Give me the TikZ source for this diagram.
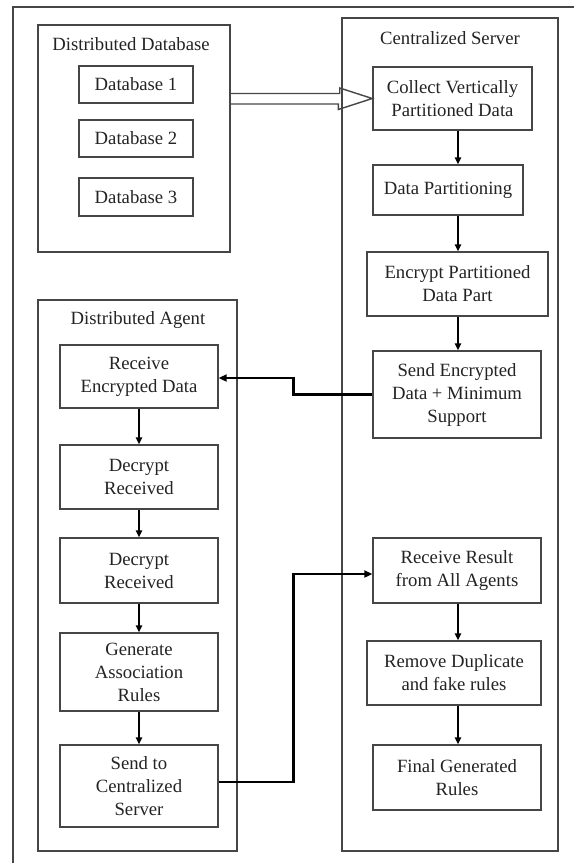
\documentclass[tikz,border=0pt]{standalone}
\usepackage{fontspec}
\setmainfont{Liberation Serif}
\newfontfamily\tnr{Liberation Serif}
\usetikzlibrary{arrows.meta,calc}
\definecolor{ln}{RGB}{70,70,70}
\definecolor{tx}{RGB}{35,35,35}
\begin{document}
\begin{tikzpicture}[x=1pt,y=-1pt,
  box/.style n args={2}{draw=ln,line width=1.4pt,minimum width=#1pt,minimum height=#2pt,
    inner sep=0pt,align=center,text=tx,font=\tnr\fontsize{18.7}{23}\selectfont},
  container/.style n args={2}{draw=ln,line width=1.4pt,minimum width=#1pt,minimum height=#2pt,inner sep=0pt},
  titletext/.style={inner sep=0pt,text=tx,font=\tnr\fontsize{18.7}{23}\selectfont},
  arr/.style={draw=black,line width=1.4pt,-{Triangle[length=7pt,width=6.5pt]}},
  bigarr/.style={draw=black,line width=2.6pt,-{Triangle[length=8pt,width=7pt]}},
  frameline/.style={draw=ln,line width=1.4pt}]
\useasboundingbox (0,0) rectangle (574,863);
% outer frame
\coordinate (tl) at (13,7);
\coordinate (tr) at (574,7);
\coordinate (bl) at (13,863);
\draw[frameline] (tr) -- (tl) -- (bl);
% containers
\node[container={192}{227}] (dd) at (134,138.5) {};
\node[titletext] (ddt) at (131,44) {Distributed Database};
\node[container={216}{833}] (cs) at (450,434.5) {};
\node[titletext] (cst) at (450,38) {Centralized Server};
\node[container={199}{551}] (da) at (137.5,575.5) {};
\node[titletext] (dat) at (138,320) {Distributed Agent};
% database boxes
\node[box={114}{37}] (db1) at (136,84.5) {Database 1};
\node[box={114}{37}] (db2) at (136,138.5) {Database 2};
\node[box={114}{38}] (db3) at (136,197) {Database 3};
% server boxes
\node[box={159}{63}] (collect) at (452.5,98.5) {Collect Vertically\\Partitioned Data};
\node[box={150}{50}] (datapart) at (448,190) {Data Partitioning};
\node[box={181}{64}] (encrypt) at (457.5,284) {Encrypt Partitioned\\Data Part};
\node[box={168}{87}] (sendenc) at (457,394.5) {Send Encrypted\\Data + Minimum\\Support};
\node[box={168}{65}] (recvres) at (457,570.5) {Receive Result\\from All Agents};
\node[box={174}{64}] (remove) at (454,673) {Remove Duplicate\\and fake rules};
\node[box={168}{65}] (final) at (457,777.5) {Final Generated\\Rules};
% agent boxes
\node[box={158}{63}] (recvenc) at (139,376.5) {Receive\\Encrypted Data};
\node[box={158}{64}] (dec1) at (139,477) {Decrypt\\Received};
\node[box={158}{65}] (dec2) at (139,570.5) {Decrypt\\Received};
\node[box={158}{78}] (gen) at (139,672) {Generate\\Association\\Rules};
\node[box={158}{82}] (sendto) at (139,786) {Send to\\Centralized\\Server};
% hollow arrow
\draw[frameline,line join=miter] (dd.east |- collect.west) ++(0,-5) -- ++(109,0) -- ++(0,-5.5)
  -- (collect.west) -- ++(-34,11) -- ++(0,-5.5) -- ++(-109,0);
% server arrows
\coordinate (ax) at (458,0);
\draw[arr] (collect.south -| ax) -- (datapart.north -| ax);
\draw[arr] (datapart.south -| ax) -- (encrypt.north -| ax);
\draw[arr] (encrypt.south -| ax) -- (sendenc.north -| ax);
\draw[arr] (recvres.south -| ax) -- (remove.north -| ax);
\draw[arr] (remove.south -| ax) -- (final.north -| ax);
% agent arrows
\draw[arr] (recvenc.south) -- (dec1.north);
\draw[arr] (dec1.south) -- (dec2.north);
\draw[arr] (dec2.south) -- (gen.north);
\draw[arr] (gen.south) -- (sendto.north);
% long connectors
\draw[bigarr,line join=miter] (sendenc.west) -- ++(-79,0) |- ([yshift=-1.5pt]recvenc.east);
\draw[bigarr,line join=miter] ([yshift=4pt]sendto.east) -- ++(75,0) |- ([yshift=-3.5pt]recvres.west);
\end{tikzpicture}
\end{document}
